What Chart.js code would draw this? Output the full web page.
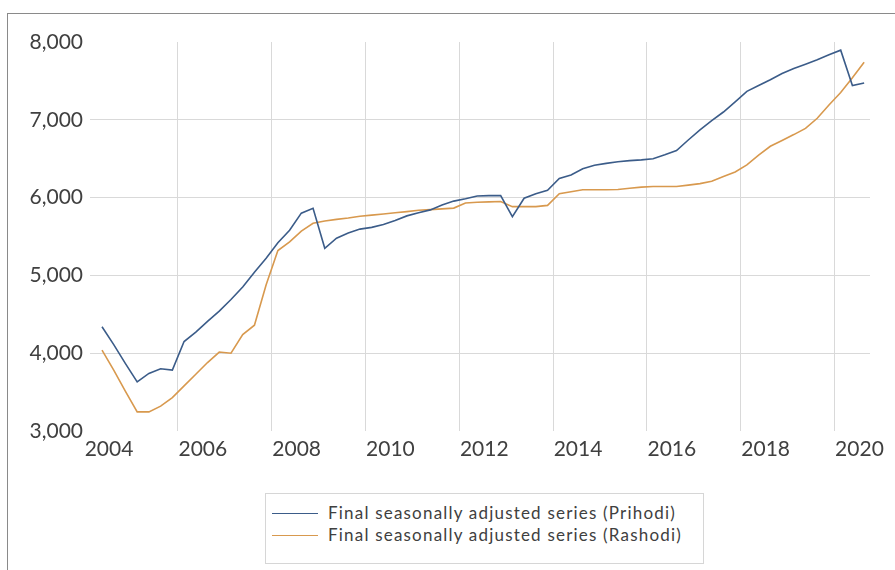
<!DOCTYPE html>
<html lang="en">
<head>
    <meta charset="UTF-8">
    <title>Final seasonally adjusted series</title>
    <script src="https://cdn.jsdelivr.net/npm/chart.js"></script>
    <style>
        body {
            margin: 0;
            background: #fff;
            font-family: Lato, sans-serif;
            color: #404040;
        }
        .frame {
            position: absolute;
            left: 7px;
            top: 13px;
            width: 895px;
            height: 570px;
            border-left: 1px solid #8a8a8a;
            border-top: 1px solid #8a8a8a;
        }
        .chart-box {
            position: absolute;
            left: 0;
            top: 0;
            width: 895px;
            height: 470px;
        }
        .legend {
            position: absolute;
            left: 265px;
            top: 493px;
            width: 437px;
            height: 69px;
            border: 1px solid #d6d6d6;
            font-size: 17px;
            letter-spacing: 1.2px;
        }
        .legend div {
            position: absolute;
            left: 62px;
            white-space: nowrap;
            line-height: 20px;
        }
        .legend span {
            position: absolute;
            left: -56px;
            top: 10px;
            width: 46px;
            height: 0;
            border-top: 1.5px solid;
        }
    </style>
</head>
<body>
    <div class="frame"></div>
    <div class="chart-box"><canvas id="seriesChart"></canvas></div>
    <div class="legend">
        <div id="leg0" style="top: 9px;"><span></span></div>
        <div id="leg1" style="top: 31px;"><span></span></div>
    </div>

    <script>
        // quarterly, 2004 Q1 .. 2020 Q2
        const firstYear = 2004;
        const quarters = [];
        for (let k = 0; k < 66; k++) quarters.push(firstYear + k * 0.25);

        const prihodi = [
            4340, 4110, 3866, 3632, 3740, 3800, 3782, 4150, 4270, 4410,
            4540, 4690, 4850, 5040, 5220, 5420, 5580, 5800, 5863, 5349,
            5478, 5545, 5595, 5617, 5655, 5705, 5765, 5805, 5842, 5905,
            5955, 5985, 6020, 6026, 6026, 5756, 5992, 6050, 6095, 6245,
            6290, 6370, 6415, 6440, 6460, 6475, 6485, 6500, 6550, 6605,
            6740, 6870, 6990, 7100, 7230, 7365, 7440, 7515, 7595, 7660,
            7715, 7772, 7835, 7895, 7440, 7472
        ];
        const rashodi = [
            4040, 3783, 3510, 3246, 3246, 3320, 3430, 3580, 3730, 3880,
            4015, 4000, 4240, 4360, 4880, 5320, 5430, 5570, 5670, 5700,
            5720, 5738, 5760, 5775, 5790, 5805, 5820, 5838, 5845, 5855,
            5865, 5930, 5940, 5945, 5949, 5884, 5884, 5884, 5900, 6050,
            6075, 6100, 6100, 6100, 6105, 6120, 6135, 6142, 6142, 6142,
            6160, 6180, 6210, 6270, 6330, 6420, 6545, 6660, 6735, 6810,
            6890, 7020, 7190, 7350, 7540, 7740
        ];

        const seriesNames = [
            'Final seasonally adjusted series (Prihodi)',
            'Final seasonally adjusted series (Rashodi)'
        ];
        const seriesColors = ['#3b5c89', '#d8994e'];
        const yearLabels = [2004, 2006, 2008, 2010, 2012, 2014, 2016, 2018, 2020];
        const yTicks = [3000, 4000, 5000, 6000, 7000, 8000];

        // label ticks sit a bit right of Q1, gridlines near the middle of odd years
        const labelShift = 0.15;
        const gridShift = 1.62;

        const toPoints = vals => vals.map((v, i) => ({ x: quarters[i], y: v }));

        seriesNames.forEach((name, i) => {
            const row = document.getElementById('leg' + i);
            row.appendChild(document.createTextNode(name));
            row.querySelector('span').style.borderColor = seriesColors[i];
        });

        new Chart(document.getElementById('seriesChart'), {
            type: 'line',
            data: {
                datasets: [
                    { label: seriesNames[0], data: toPoints(prihodi), borderColor: seriesColors[0], borderWidth: 1.6, pointRadius: 0, tension: 0 },
                    { label: seriesNames[1], data: toPoints(rashodi), borderColor: seriesColors[1], borderWidth: 1.6, pointRadius: 0, tension: 0 }
                ]
            },
            options: {
                responsive: true,
                maintainAspectRatio: false,
                animation: false,
                layout: { padding: { top: 42, right: 25, left: 0, bottom: 0 } },
                plugins: { legend: { display: false }, tooltip: { enabled: false } },
                scales: {
                    x: {
                        type: 'linear',
                        min: 2003.744,
                        max: 2020.375,
                        border: { display: false },
                        afterBuildTicks: scale => {
                            const t = [];
                            yearLabels.forEach(y => {
                                t.push({ value: y + labelShift, label: String(y) });
                                if (y + gridShift < scale.max) t.push({ value: y + gridShift, label: '' });
                            });
                            scale.ticks = t;
                        },
                        afterFit: scale => { scale.height = 39; },
                        grid: {
                            drawTicks: false,
                            color: ctx => (ctx.tick && ctx.tick.label === '') ? '#d9d9d9' : 'rgba(0,0,0,0)'
                        },
                        ticks: {
                            autoSkip: false,
                            maxRotation: 0,
                            padding: 6,
                            color: '#404040',
                            font: { family: 'Lato', size: 21 },
                            callback: function (value, index, ticks) { return ticks[index].label; }
                        }
                    },
                    y: {
                        min: 3000,
                        max: 8000,
                        border: { display: false },
                        afterBuildTicks: scale => { scale.ticks = yTicks.map(v => ({ value: v })); },
                        afterFit: scale => { scale.width = 90; },
                        grid: {
                            drawTicks: false,
                            color: ctx => (ctx.tick && (ctx.tick.value === 3000 || ctx.tick.value === 8000)) ? 'rgba(0,0,0,0)' : '#d9d9d9'
                        },
                        ticks: {
                            padding: 7,
                            color: '#404040',
                            font: { family: 'Lato', size: 21 },
                            callback: v => v.toLocaleString('en-US')
                        }
                    }
                }
            }
        });
    </script>
</body>
</html>
